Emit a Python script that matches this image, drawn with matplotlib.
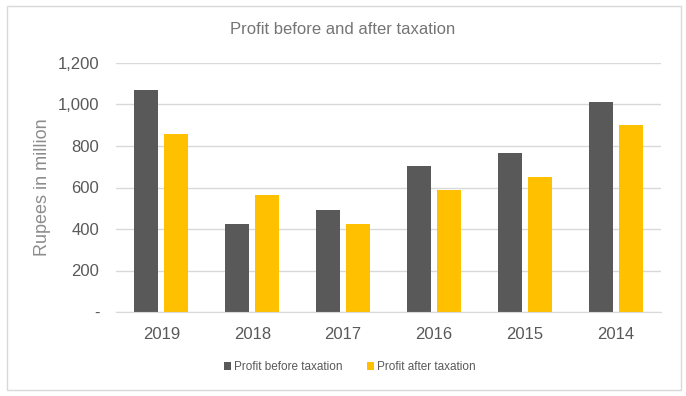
import matplotlib.pyplot as plt
from matplotlib.patches import Rectangle
import numpy as np

# Data
years = ['2019', '2018', '2017', '2016', '2015', '2014']
before_tax = [1068, 424, 491, 703, 765, 1011]
after_tax = [857, 563, 424, 587, 650, 900]
y_ticks = [0, 200, 400, 600, 800, 1000, 1200]
y_tick_labels = ['-', '200', '400', '600', '800', '1,000', '1,200']

narrow = ['Liberation Sans Narrow', 'Liberation Sans', 'DejaVu Sans']
plt.rcParams['font.family'] = ['Liberation Sans', 'DejaVu Sans']

fig = plt.figure(figsize=(6.86, 3.96), dpi=100)
ax = fig.add_axes([116 / 686, 1 - 312 / 396, 545 / 686, 249 / 396])

x = np.arange(len(years))
width = 0.265
ax.bar(x - 0.165, before_tax, width, color='#595959', label='Profit before taxation')
ax.bar(x + 0.165, after_tax, width, color='#FFC000', label='Profit after taxation')

ax.set_xlim(-0.5, len(years) - 0.5)
ax.set_ylim(0, 1200)
ax.set_yticks(y_ticks)
ax.set_yticklabels(y_tick_labels, family=narrow, fontsize=12, color='#595959')
ax.set_xticks(x)
ax.set_xticklabels(years, family=narrow, fontsize=12, color='#595959')
ax.tick_params(axis='both', length=0)
ax.tick_params(axis='y', pad=12)
ax.tick_params(axis='x', pad=11)

ax.grid(axis='y', color='#D9D9D9', linewidth=1)
ax.set_axisbelow(True)
for side in ['top', 'right', 'left']:
    ax.spines[side].set_visible(False)
ax.spines['bottom'].set_color('#D9D9D9')

ax.set_ylabel('Rupees in million', fontsize=13, color='#8C8C8C')
ax.yaxis.set_label_coords(-0.12, 0.5)

fig.text(0.5, 1 - 30 / 396, 'Profit before and after taxation', ha='center', va='center',
         fontsize=12, color='#757575', family=narrow)

ax.legend(loc='center', bbox_to_anchor=(0.51, 1 - 367 / 396), bbox_transform=fig.transFigure,
          ncol=2, frameon=False, fontsize=8.5, handlelength=0.6, handleheight=0.6,
          handletextpad=0.3, columnspacing=2.0, labelcolor='#595959')

# outer chart border
fig.patches.append(Rectangle((7 / 686, 6 / 396), 674 / 686, 384 / 396, transform=fig.transFigure,
                             fill=False, edgecolor='#D9D9D9', linewidth=1))

fig.savefig('out.png', dpi=100)
